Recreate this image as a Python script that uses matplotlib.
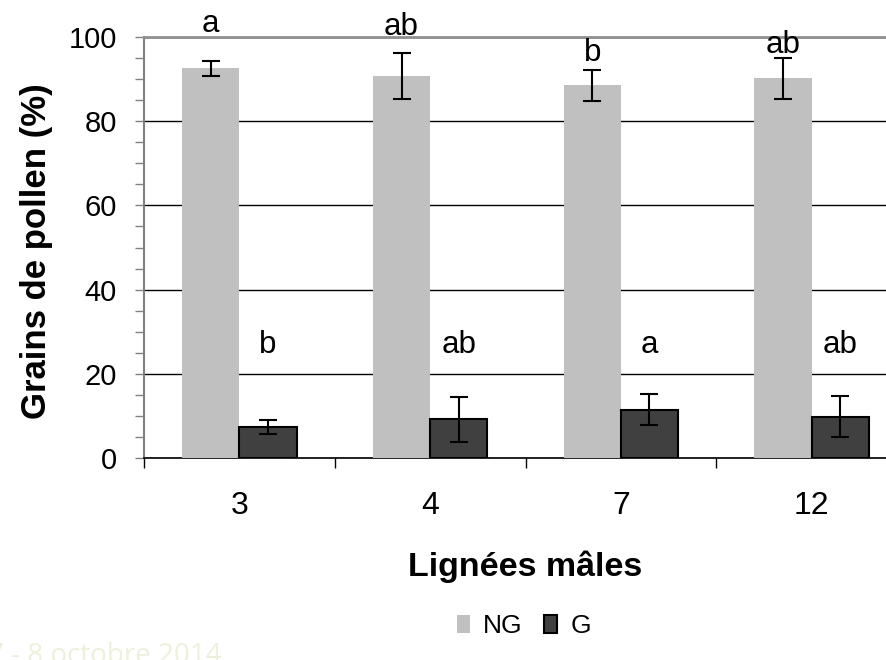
import numpy as np
import matplotlib.pyplot as plt
from matplotlib.patches import Patch
from matplotlib.ticker import MultipleLocator, FixedLocator

plt.rcParams['font.family'] = ['Liberation Sans', 'DejaVu Sans']

# pourcentages de grains de pollen par lignée mâle
lignees = ["3", "4", "7", "12"]
ng = [92.6, 90.8, 88.5, 90.2]
g = [7.4, 9.2, 11.5, 9.8]
err_ng = [1.8, 5.5, 3.7, 4.9]
err_g = [1.7, 5.4, 3.7, 4.9]
lettres_ng = ["a", "ab", "b", "ab"]
lettres_g = ["b", "ab", "a", "ab"]

W, H = 886, 660
fig = plt.figure(figsize=(W / 100, H / 100), dpi=100)
ax = fig.add_axes([144 / W, (H - 458) / H, 763 / W, 421 / H])

x = np.arange(len(lignees))
larg = 0.3
ax.bar(x - 0.15, ng, larg, color="#c0c0c0", zorder=3)
ax.bar(x + 0.15, g, larg, color="#404040", edgecolor="black", linewidth=1.5, zorder=3)
ax.errorbar(x - 0.15, ng, yerr=err_ng, fmt="none", ecolor="black",
            elinewidth=1.5, capsize=6.5, capthick=1.5, zorder=4)
ax.errorbar(x + 0.15, g, yerr=err_g, fmt="none", ecolor="black",
            elinewidth=1.5, capsize=6.5, capthick=1.5, zorder=4)

# lettres de significativité (ligne de base)
haut_ng = [101.2, 100.5, 94.4, 96.1]
for i in range(len(lignees)):
    ax.text(x[i] - 0.15, haut_ng[i], lettres_ng[i], ha="center", va="baseline",
            fontsize=22.5, clip_on=False, zorder=5)
    ax.text(x[i] + 0.15, 25.0, lettres_g[i], ha="center", va="baseline",
            fontsize=22.5, zorder=5)

ax.set_xlim(-0.5, 3.5)
ax.set_ylim(0, 100)

ax.xaxis.set_major_locator(FixedLocator(np.arange(-0.5, 4, 1)))
ax.xaxis.set_minor_locator(FixedLocator(x))
ax.set_xticklabels([], minor=False)
ax.set_xticklabels(lignees, minor=True)
ax.tick_params(axis="x", which="major", direction="out", length=7, width=1, color="black")
ax.tick_params(axis="x", which="minor", length=0, pad=24, labelsize=23)

ax.yaxis.set_major_locator(MultipleLocator(20))
ax.yaxis.set_minor_locator(MultipleLocator(5))
ax.tick_params(axis="y", which="both", direction="out", length=6.5, width=1,
               color="#808080", labelsize=21, pad=13)

ax.grid(axis="y", which="major", color="black", linewidth=1, zorder=0)
ax.set_axisbelow(True)

ax.spines["right"].set_visible(False)
ax.spines["top"].set_color("#909090")
ax.spines["top"].set_linewidth(2)
ax.spines["left"].set_color("#808080")
ax.spines["left"].set_linewidth(1.5)
ax.spines["bottom"].set_color("black")
ax.spines["bottom"].set_linewidth(1.2)

ax.set_ylabel("Grains de pollen (%)", fontsize=25, fontweight="bold")
ax.yaxis.set_label_coords(-0.141, 0.492)
ax.yaxis.label.set_va("center")
ax.set_xlabel("Lignées mâles", fontsize=24.5, fontweight="bold")
ax.xaxis.set_label_coords(0.499, -0.259)
ax.xaxis.label.set_va("center")

poignees = [Patch(facecolor="#c0c0c0", edgecolor="none", label="NG"),
            Patch(facecolor="#404040", edgecolor="black", linewidth=1.5, label="G")]
fig.legend(handles=poignees, loc="center", bbox_to_anchor=(524 / W, 1 - 626 / H),
           ncol=2, frameon=False, fontsize=19, handlelength=0.5, handleheight=0.65,
           handletextpad=0.5, columnspacing=0.8)

fig.text(222 / W, -0.0045, "7 - 8 octobre 2014", ha="right", va="baseline",
         color="#eef0dc", fontsize=20, family=["Open Sans", "DejaVu Sans"])

fig.savefig("out.png", dpi=100)
